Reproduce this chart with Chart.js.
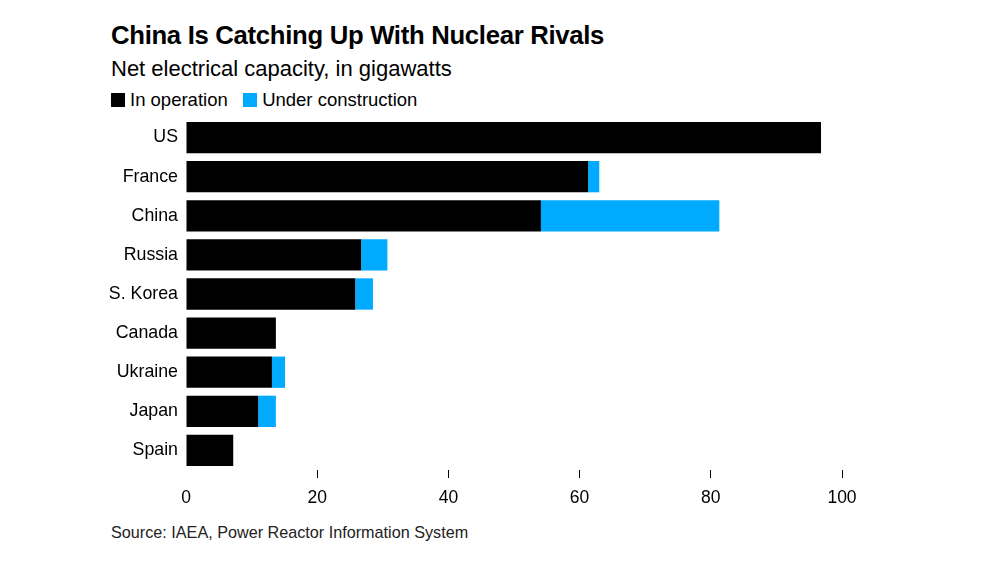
<!DOCTYPE html>
<html>
<head>
<meta charset="utf-8">
<script src="https://cdn.jsdelivr.net/npm/chart.js@4"></script>
<style>
  body { margin: 0; background: #fff; font-family: Arial, "Liberation Sans", sans-serif; }
  #wrap { position: relative; width: 988px; height: 567px; }
  .t { position: absolute; left: 111px; color: #000; white-space: nowrap; }
  #title { top: 21px; font-size: 25.7px; font-weight: bold; letter-spacing: -0.3px; }
  #sub { top: 56px; font-size: 22px; }
  #legend { top: 89px; font-size: 18.5px; }
  .sw { display: inline-block; width: 14px; height: 14px; vertical-align: -1px; margin-right: 5px; }
  #source { top: 523px; font-size: 16.2px; color: #222; }
  #box { position: absolute; left: 0; top: 103px; width: 988px; height: 416px; }
</style>
</head>
<body>
<div id="wrap">
  <div class="t" id="title">China Is Catching Up With Nuclear Rivals</div>
  <div class="t" id="sub">Net electrical capacity, in gigawatts</div>
  <div class="t" id="legend"><span class="sw" style="background:#000"></span>In operation&nbsp;&nbsp;&nbsp;<span class="sw" style="background:#00aaff"></span>Under construction</div>
  <div id="box"><canvas id="c"></canvas></div>
  <div class="t" id="source">Source: IAEA, Power Reactor Information System</div>
</div>
<script>
const countries = ['US', 'France', 'China', 'Russia', 'S. Korea', 'Canada', 'Ukraine', 'Japan', 'Spain'];
const inOperation = [96.8, 61.3, 54.1, 26.7, 25.8, 13.7, 13.1, 11.0, 7.2];
const underConstruction = [0, 1.7, 27.2, 4.0, 2.7, 0, 2.0, 2.7, 0];
const xTicks = [0, 20, 40, 60, 80, 100];

new Chart(document.getElementById('c'), {
    type: 'bar',
    data: {
        labels: countries,
        datasets: [
            { label: 'In operation', data: inOperation, backgroundColor: '#000' },
            { label: 'Under construction', data: underConstruction, backgroundColor: '#00aaff' }
        ]
    },
    options: {
        indexAxis: 'y',
        responsive: true,
        maintainAspectRatio: false,
        animation: false,
        barPercentage: 0.8,
        categoryPercentage: 1,
        layout: { padding: { right: 146, top: 15 } },
        plugins: { legend: { display: false }, tooltip: { enabled: false } },
        scales: {
            x: {
                stacked: true, min: 0, max: 100,
                afterBuildTicks: s => { s.ticks = xTicks.map(v => ({ value: v })); },
                border: { display: false },
                grid: {
                    drawOnChartArea: false, tickLength: 8,
                    color: ctx => ctx.tick && ctx.tick.value === 0 ? 'rgba(0,0,0,0)' : '#000'
                },
                ticks: { color: '#000', font: { size: 17.5, family: 'Arial, Liberation Sans' }, padding: 10 }
            },
            y: {
                stacked: true,
                afterFit: s => { s.width = 186; },
                border: { display: false },
                grid: { display: false },
                ticks: { color: '#000', font: { size: 17.8, family: 'Arial, Liberation Sans' }, padding: 0 }
            }
        }
    }
});
</script>
</body>
</html>
